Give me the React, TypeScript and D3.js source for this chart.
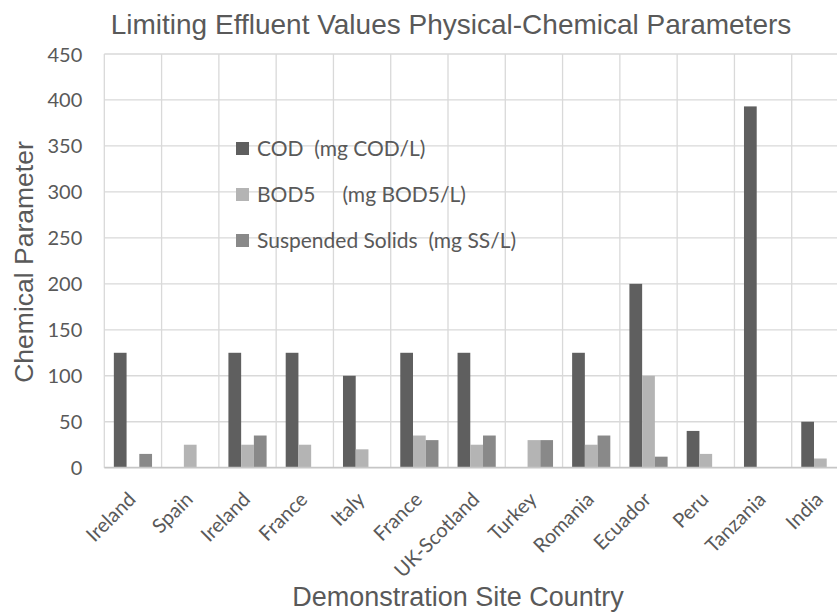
import React from 'react';
import * as d3 from 'd3';

// chart values
const countries = ["Ireland", "Spain", "Ireland", "France", "Italy", "France", "UK-Scotland", "Turkey", "Romania", "Ecuador", "Peru", "Tanzania", "India"];
const cod = [125, 0, 125, 125, 100, 125, 125, 0, 125, 200, 40, 393, 50];
const bod5 = [0, 25, 25, 25, 20, 35, 25, 30, 25, 100, 15, 0, 10];
const suspendedSolids = [15, 0, 35, 0, 0, 30, 35, 30, 35, 12, 0, 0, 0];
const seriesNames = ["COD  (mg COD/L)", "BOD5     (mg BOD5/L)", "Suspended Solids  (mg SS/L)"];
const seriesColors = ["#5f5f5f", "#b4b4b4", "#898989"];
const yTicks = [0, 50, 100, 150, 200, 250, 300, 350, 400, 450];

const W = 837, H = 612;
const textColor = "#595959";
const sansFont = "'Liberation Sans', Arial, sans-serif";
const labelFont = "Lato, 'Open Sans', sans-serif";

export default class App extends React.Component {
    node: SVGSVGElement | null = null;

    componentDidMount() {
        this._setupD3();
    }

    componentDidUpdate() {
        this._setupD3();
    }

    render() {
        return (
            <div style={{ position: "absolute", left: 0, top: 0 }}>
                <svg ref={el => { this.node = el; }} width={W} height={H} style={{ display: "block", background: "#fff" }} />
            </div>
        );
    }

    _setupD3 = () => {
        const svg = d3.select(this.node);
        svg.selectAll("*").remove();

        // plot area runs past the right edge of the picture (cropped there)
        const plot = { left: 104.3, right: 849, top: 54, bottom: 467.7 };
        const series = [cod, bod5, suspendedSolids];

        // categories by index: names repeat (Ireland, France)
        const x = d3.scaleBand<number>()
            .domain(countries.map((d, i) => i))
            .range([plot.left, plot.right])
            .padding(0);
        // gap width 150% -> 0.75 bar on each side
        const xs = d3.scaleBand<number>()
            .domain([0, 1, 2])
            .range([0, x.bandwidth()])
            .paddingInner(0)
            .paddingOuter(0.75);
        const y = d3.scaleLinear()
            .domain([0, 450])
            .range([plot.bottom, plot.top]);

        // horizontal gridlines
        svg.append("g")
            .selectAll("line")
            .data(yTicks.filter(d => d > 0))
            .enter().append("line")
            .attr("x1", plot.left).attr("x2", plot.right)
            .attr("y1", d => y(d)).attr("y2", d => y(d))
            .attr("stroke", "#d9d9d9").attr("stroke-width", 1.3);

        // vertical gridlines at category boundaries
        svg.append("g")
            .selectAll("line")
            .data(countries.map((d, i) => i))
            .enter().append("line")
            .attr("x1", i => x(i)!).attr("x2", i => x(i)!)
            .attr("y1", plot.top).attr("y2", plot.bottom)
            .attr("stroke", "#d9d9d9").attr("stroke-width", 1.3);

        // bars
        const groups = svg.append("g")
            .selectAll("g")
            .data(series)
            .enter().append("g")
            .attr("fill", (d, s) => seriesColors[s]);
        groups.selectAll("rect")
            .data((values, s) => values.map((v, i) => ({ v, i, s })).filter(d => d.v > 0))
            .enter().append("rect")
            .attr("x", d => x(d.i)! + xs(d.s)!)
            .attr("width", xs.bandwidth())
            .attr("y", d => y(d.v))
            .attr("height", d => y(0) - y(d.v));

        // category axis line
        svg.append("line")
            .attr("x1", plot.left).attr("x2", plot.right)
            .attr("y1", y(0)).attr("y2", y(0))
            .attr("stroke", "#c6c6c6").attr("stroke-width", 1.8);

        // y axis labels
        const yAxis = svg.append("g")
            .attr("transform", `translate(${plot.left - 22},0)`)
            .call(d3.axisLeft(y).tickValues(yTicks).tickSize(0).tickPadding(0));
        yAxis.select(".domain").remove();
        yAxis.selectAll("text")
            .attr("fill", textColor)
            .attr("font-family", labelFont)
            .attr("font-size", 20)
            .attr("dy", "0.35em");

        // x labels, rotated
        svg.append("g")
            .selectAll("text")
            .data(countries)
            .enter().append("text")
            .attr("transform", (d, i) => `translate(${x(i)! + x.bandwidth() / 2 + 4},${plot.bottom + 33}) rotate(-45)`)
            .attr("text-anchor", "end")
            .attr("fill", textColor)
            .attr("font-family", labelFont)
            .attr("font-size", 20)
            .text(d => d);

        // titles
        svg.append("text")
            .attr("x", 451).attr("y", 34.3)
            .attr("text-anchor", "middle")
            .attr("fill", textColor)
            .attr("font-family", sansFont)
            .attr("font-size", 28)
            .text("Limiting Effluent Values Physical-Chemical Parameters");

        svg.append("text")
            .attr("x", 458).attr("y", 605.5)
            .attr("text-anchor", "middle")
            .attr("fill", textColor)
            .attr("font-family", sansFont)
            .attr("font-size", 27)
            .text("Demonstration Site Country");

        svg.append("text")
            .attr("transform", "translate(33,262) rotate(-90)")
            .attr("text-anchor", "middle")
            .attr("fill", textColor)
            .attr("font-family", sansFont)
            .attr("font-size", 26.5)
            .text("Chemical Parameter");

        // legend inside the plot
        const legend = svg.append("g")
            .attr("transform", "translate(236,149)")
            .selectAll("g")
            .data(seriesNames)
            .enter().append("g")
            .attr("transform", (d, i) => `translate(0,${i * 46})`);

        legend.append("rect")
            .attr("y", -7)
            .attr("width", 13)
            .attr("height", 13)
            .attr("fill", (d, i) => seriesColors[i]);

        legend.append("text")
            .attr("x", 21)
            .attr("dy", "0.35em")
            .attr("fill", textColor)
            .attr("font-family", labelFont)
            .attr("font-size", 21)
            .style("white-space", "pre")
            .text(d => d);
    }
}
